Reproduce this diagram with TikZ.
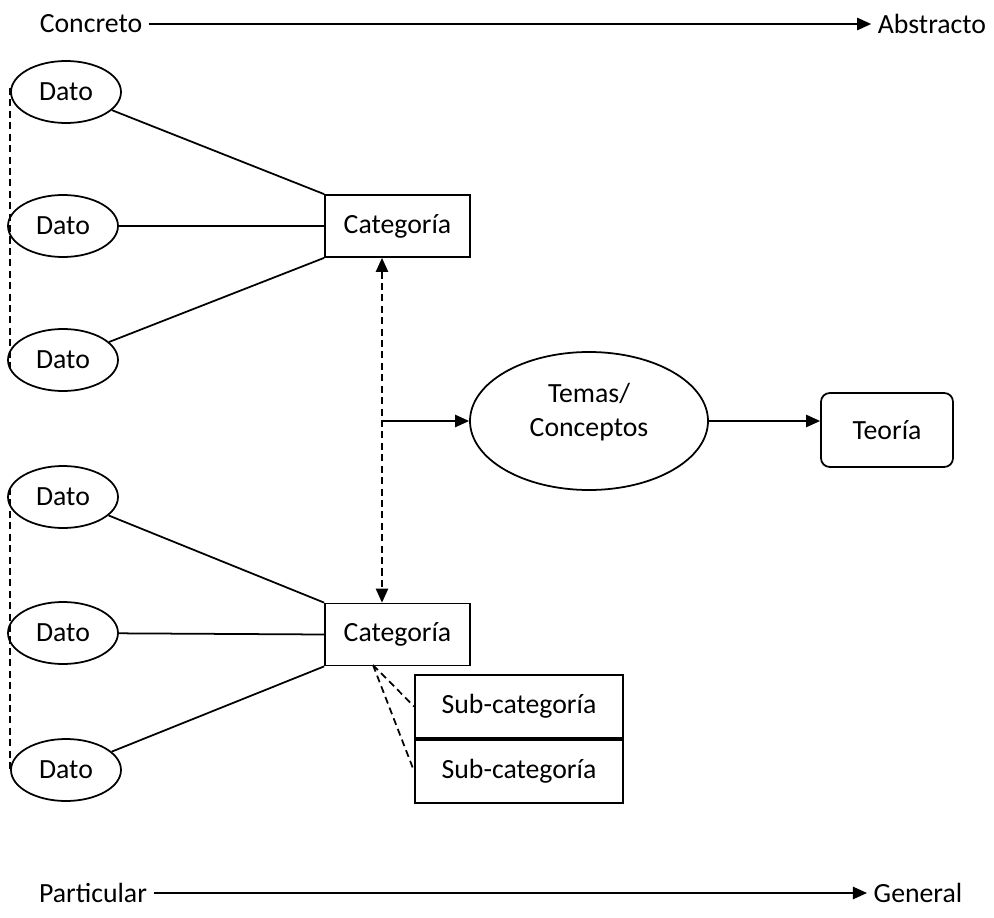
\documentclass[tikz,border=0pt]{standalone}
\usepackage{fontspec}
\setmainfont{Carlito}
\usepackage{tikz}
\usetikzlibrary{arrows.meta,shapes.geometric,positioning,calc}

\begin{document}
\begin{tikzpicture}[
    font=\fontsize{15.8}{19}\selectfont,
    line width=1pt,
    dashline/.style={dash pattern=on 4pt off 2.5pt},
    dato/.style={draw, ellipse, inner sep=0pt, minimum width=2.2cm, minimum height=1.24cm},
    cat/.style={draw, inner sep=0pt, minimum width=2.9cm, minimum height=1.24cm},
    subcat/.style={draw, inner sep=0pt, minimum width=4.16cm, minimum height=1.26cm},
    tema/.style={draw, ellipse, inner sep=0pt, minimum width=4.76cm, minimum height=2.76cm, align=center, text depth=0.45cm},
    teoria/.style={draw, rounded corners=5pt, inner sep=0pt, minimum width=2.64cm, minimum height=1.48cm},
    arr/.style={-{Triangle[length=8pt,width=7pt]}},
    darr/.style={{Triangle[length=8pt,width=7pt]}-{Triangle[length=8pt,width=7pt]}, dashline}
]
\useasboundingbox (0,0) rectangle (19.88,-18.36);

% ejes
\node (conc) at (1.82,-0.48) {Concreto};
\node (abst) at (18.64,-0.48) {Abstracto};
\node (part) at (1.86,-17.86) {Particular};
\node (gen) at (18.36,-17.86) {General};
\draw[arr] (conc) -- (abst);
\draw[arr] (part) -- (gen);

% datos
\node[dato] (d1) at (1.32,-1.84) {Dato};
\node[dato] (d2) at (1.26,-4.52) {Dato};
\node[dato] (d3) at (1.26,-7.2) {Dato};
\node[dato] (d4) at (1.26,-9.94) {Dato};
\node[dato] (d5) at (1.26,-12.66) {Dato};
\node[dato] (d6) at (1.32,-15.4) {Dato};
\draw[dashline] (0.2,-1.76) -- (0.2,-7.44);
\draw[dashline] (0.2,-9.76) -- (0.2,-15.44);

% categorias
\node[cat] (cat1) at (7.95,-4.52) {Categoría};
\node[cat] (cat2) at (7.95,-12.69) {Categoría};
\node[subcat] (sub1) at (10.38,-14.13) {Sub-categoría};
\node[subcat, below=0pt of sub1] (sub2) {Sub-categoría};

\draw (d1) -- (cat1.north west);
\draw (d2) -- (cat1.west);
\draw (d3) -- (cat1.south west);
\draw (d4) -- (cat2.north west);
\draw (d5) -- (cat2.west);
\draw (d6) -- (cat2.south west);

\coordinate (sc) at (7.46,-13.3);
\draw[dashline] (sc) -- (sub1.west);
\draw[dashline] (sc) -- (sub2.west);

% temas y teoria
\node[tema] (tema) at (11.78,-8.42) {Temas/\\Conceptos};
\node[teoria] (teo) at (17.74,-8.6) {Teoría};
\coordinate (mid) at (7.64,-8.42);
\draw[darr] (mid |- cat1.south) -- (mid |- cat2.north);
\draw[arr] (mid) -- (tema);
\draw[arr] (tema.east) -- (tema.east -| teo.west);
\end{tikzpicture}
\end{document}
